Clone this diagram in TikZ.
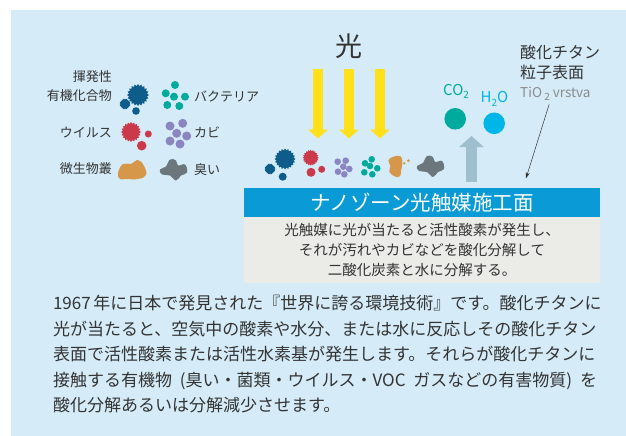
\documentclass[tikz,border=0pt]{standalone}
\usepackage{fontspec}
\setmainfont{Noto Sans CJK JP}
\usetikzlibrary{arrows.meta,shapes.geometric}

\definecolor{skyback}{HTML}{D5ECF8}
\definecolor{bannerblue}{HTML}{0A9BD6}
\definecolor{notegray}{HTML}{EBEBE7}
\definecolor{sunyellow}{HTML}{FFE01B}
\definecolor{risegray}{HTML}{A0BFCE}
\definecolor{co2teal}{HTML}{00AA9C}
\definecolor{h2ocyan}{HTML}{00B5E8}
\definecolor{vocblue}{HTML}{0D5C8A}
\definecolor{virusred}{HTML}{CB3A4B}
\definecolor{moldpurple}{HTML}{8B85C1}
\definecolor{microbeorange}{HTML}{D6974A}
\definecolor{odorgray}{HTML}{6B767D}
\definecolor{inkgray}{HTML}{333333}
\definecolor{labelgray}{HTML}{8A8A8A}

\newcommand{\chemsub}[1]{\raisebox{-0.45ex}{\fontsize{10}{10}\selectfont #1}}

\tikzset{
  microbe/.pic={\fill[microbeorange] plot[smooth cycle,tension=0.75] coordinates {(-14,3) (-9,-6) (-1,-6) (6,-10) (12,-4) (14,5) (6,9) (-6,9) (-12,9)};},
  odor/.pic={\fill[odorgray] plot[smooth cycle,tension=0.7] coordinates {(-13,0) (-7,-3) (-3,-10) (3,-9) (5,-4) (12,-5) (14,3) (8,6) (3,11) (-3,6) (-11,5)};}
}

\begin{document}
\begin{tikzpicture}[x=1pt,y=-1pt,
  txt/.style={inner sep=0pt,text=inkgray},
  keytext/.style={txt,font=\fontsize{13}{19}\selectfont},
  spike/.style={star,star points=20,star point ratio=1.22,inner sep=0pt},
  lightray/.style={draw=sunyellow,line width=10pt,-{Triangle[width=19.5pt,length=9pt]}},
  rise/.style={draw=risegray,line width=11.7pt,-{Triangle[width=24pt,length=11pt]}},
  molecule/.style={circle,inner sep=0pt,minimum size=21.6pt},
  banner/.style={fill=bannerblue,text=white,minimum width=356pt,minimum height=29pt,inner sep=0pt,font=\fontsize{20.5}{20.5}\selectfont},
  notebox/.style={fill=notegray,minimum width=356pt,minimum height=66pt,inner sep=0pt,align=center,text=inkgray,font=\fontsize{14.5}{20}\selectfont},
  pointer/.style={-{Stealth[length=6pt,width=4pt]},line width=0.5pt,draw=inkgray}]
  \useasboundingbox (0,0) rectangle (626,436);
  \fill[skyback] (11,10) rectangle (626,436);

  % legend
  \node[keytext,anchor=east,align=right] (vocname) at (112,86.2) {揮発性\\有機化合物};
  \node[keytext,anchor=east] (virusname) at (112,132.5) {ウイルス};
  \node[keytext,anchor=east] (microbename) at (112,169) {微生物叢};
  \node[keytext,anchor=west] (bacname) at (194,96.5) {バクテリア};
  \node[keytext,anchor=west] (moldname) at (194,132) {カビ};
  \node[keytext,anchor=west] (odorname) at (194,169.5) {臭い};

  \node[spike,fill=vocblue,minimum size=22pt] (vocbig) at (138,95) {};
  \node[spike,fill=vocblue,minimum size=11pt] (vocsmall) at (125,104) {};
  \fill[vocblue] (136,111) circle (3.8);
  \node[spike,fill=virusred,minimum size=20pt] (virusbig) at (131,132) {};
  \fill[virusred] (148.3,134) circle (3.5) (141.7,145.7) circle (4.8);
  \foreach \p in {(175,85),(165.7,93.3),(174,96.7),(185,96.7),(167.3,105),(179.3,106)}
    \fill[co2teal] \p circle (4);
  \foreach \p in {(170,126),(182.7,123.3),(176.7,133.3),(186.7,136),(170,141),(180,144)}
    \fill[moldpurple] \p circle (4.5);
  \pic at (132,170) {microbe};
  \pic at (173,169.5) {odor};

  % light
  \node[txt,font=\fontsize{27}{27}\selectfont] (light) at (349,46.5) {光};
  \foreach \x in {318,349,380}
    \draw[lightray] (\x,69) -- (\x,138.5);

  % pollutants on the surface
  \node[spike,fill=vocblue,minimum size=21pt] (vocrowA) at (285,159) {};
  \node[spike,fill=vocblue,minimum size=11pt] (vocrowB) at (270,169) {};
  \fill[vocblue] (282.7,176.7) circle (4);
  \node[spike,fill=virusred,minimum size=16pt] (virusrow) at (310.7,157.7) {};
  \fill[virusred] (311,172.3) circle (4.5) (321.7,169.3) circle (3.5);
  \foreach \p in {(337.7,161.7),(345.7,160.7),(343.3,166.7),(338,171.7),(349.3,169),(344.3,174.3)}
    \fill[moldpurple] \p circle (3.3);
  \foreach \p in {(365,163.3),(371.7,159.3),(370,166),(377.3,168.3),(364.3,172.3),(372.3,174.3)}
    \fill[co2teal] \p circle (3.3);
  \pic[rotate=80,scale=0.75] at (395,166) {microbe};
  \fill[microbeorange] (404.3,163.3) circle (1.3) (408.3,160.7) circle (1.5);
  \pic at (430,166) {odor};

  % products
  \draw[rise] (471.5,182) -- (471.5,136);
  \node[molecule,fill=co2teal] (co2) at (455.2,118.8) {};
  \node[molecule,fill=h2ocyan] (h2o) at (494.2,123.3) {};
  \node[txt,text=co2teal,anchor=base west,font=\fontsize{15}{15}\selectfont] (co2name) at (443,95) {CO\chemsub{2}};
  \node[txt,text=h2ocyan,anchor=base west,font=\fontsize{15}{15}\selectfont] (h2oname) at (480.5,102.7) {H\chemsub{2}O};

  % surface label
  \node[txt,anchor=west,align=left,font=\fontsize{16}{20}\selectfont] (tiname) at (520,62.5) {酸化チタン\\粒子表面};
  \node[txt,text=labelgray,anchor=base west,font=\fontsize{13.5}{13.5}\selectfont] (tio) at (520,97) {TiO\,\chemsub{2} vrstva};
  \coordinate (tiotip) at (526,178.3);
  \draw[pointer,shorten <=4pt] ([xshift=-5pt]tio.south) -- (tiotip);

  \node[banner] (banner) at (422,202.5) {ナノゾーン光触媒施工面};
  \node[notebox,anchor=north] (note) at (banner.south) {光触媒に光が当たると活性酸素が発生し、\\それが汚れやカビなどを酸化分解して\\二酸化炭素と水に分解する。};

  \node[txt,align=left,font=\fontsize{17}{25.6}\selectfont] (para) at (325,354.3) {%
    \makebox[544pt][s]{1967 年に日本で発見された『世界に誇る環境技術』です。酸化チタンに}\\
    \makebox[544pt][s]{光が当たると、空気中の酸素や水分、または水に反応しその酸化チタン}\\
    \makebox[544pt][s]{表面で活性酸素または活性水素基が発生します。それらが酸化チタンに}\\
    \makebox[544pt][s]{接触する有機物 (臭い・菌類・ウイルス・VOC ガスなどの有害物質) を}\\
    \makebox[544pt][l]{酸化分解あるいは分解減少させます。}};
\end{tikzpicture}
\end{document}
